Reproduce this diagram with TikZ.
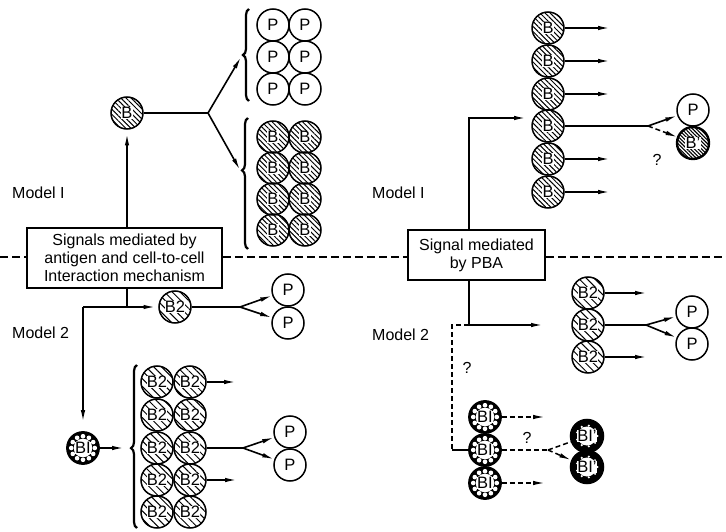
\documentclass[tikz,border=0pt]{standalone}
\usepackage{fontspec}
\setmainfont{Liberation Sans}
\usetikzlibrary{arrows.meta,patterns.meta,decorations.pathreplacing,calc}

\newcommand\cellfont{\fontsize{16.5}{16.5}\selectfont}
\newcommand\boxfont{\fontsize{16}{18}\selectfont}
\newcommand\labfont{\fontsize{16}{16}\selectfont}

% a cell drawn as a circle, with its letters on a small white patch
\newcommand\hcell[4]{\node[#1] (#2) at (#3) {}; \node[lbl] (#2t) at (#2.center) {#4};}

\tikzset{
  cellbase/.style={circle, draw, line width=1.5pt, minimum size=32pt, inner sep=0pt},
  pcell/.style={cellbase, fill=white, font=\cellfont},
  bcell/.style={cellbase, pattern={Lines[angle=-45,distance=3.6pt,line width=1pt]}},
  btwo/.style={cellbase, pattern={Lines[angle=-45,distance=5.5pt,line width=1pt]}},
  bprime/.style={cellbase, line width=2.4pt, pattern={Lines[angle=-45,distance=2.6pt,line width=1.1pt]}},
  bone/.style={cellbase, line width=1.8pt, fill=black, path picture={
      \foreach \a in {0,30,...,330}
        {\fill[white] ($(path picture bounding box.center)+(\a:11.8pt)$) circle (2.3pt);}
      \fill[white] (path picture bounding box.center) circle (9.3pt);}},
  bonep/.style={cellbase, line width=2.5pt, fill=black, path picture={
      \fill[white] (path picture bounding box.center) circle (9.5pt);
      \foreach \a in {0,40,...,320}
        {\fill[white] ($(path picture bounding box.center)+(\a:10.5pt)$) circle (1.2pt);}}},
  lbl/.style={fill=white, inner sep=0.4pt, font=\cellfont},
  ln/.style={line width=1.6pt},
  arr/.style={line width=1.6pt, -{Latex[length=12pt,width=4.5pt]}},
  dsh/.style={line width=1.5pt, dash pattern=on 5pt off 3pt},
  sep/.style={line width=1.6pt, dash pattern=on 8pt off 4pt},
  box/.style={draw, line width=1.6pt, fill=white, align=center, font=\boxfont},
  brc/.style={decorate, decoration={brace, amplitude=6pt}, line width=2.2pt},
  lab/.style={font=\labfont, anchor=west, inner sep=0pt},
}

\begin{document}
\begin{tikzpicture}[x=1pt,y=-1pt]
\useasboundingbox (0,0) rectangle (726,532);

% ---- signal boxes and the dashed divider between the two models
\node[box, minimum width=195pt, minimum height=60pt] (sig1) at (124.5,258)
  {Signals mediated by\\antigen and cell-to-cell\\Interaction mechanism};
\node[box, minimum width=137pt, minimum height=50pt] (sig2) at (476.5,255)
  {Signal mediated\\by PBA};
\coordinate (sepL) at (0,257);
\coordinate (sepR) at (726,257);
\draw[sep] (sepL) -- (sepL -| sig1.west);
\draw[sep] (sepL -| sig1.east) -- (sepL -| sig2.west);
\draw[sep] (sepL -| sig2.east) -- (sepR);

% ---- model labels and question marks
\node[lab] (mA1) at (12,193) {Model I};
\node[lab] (mA2) at (12,333) {Model 2};
\node[lab] (mB1) at (372,193) {Model I};
\node[lab] (mB2) at (372,335) {Model 2};
\node[font=\labfont] (q1) at (657,160) {?};
\node[font=\labfont] (q2) at (467,368) {?};
\node[font=\labfont] (q3) at (527,438) {?};

% ================= left half, model 1
\hcell{bcell}{b0}{127,113}{B}
\foreach \r/\y in {1/25,2/57,3/89}
  \foreach \c/\x in {1/273,2/305}
    {\node[pcell] (p\r\c) at (\x,\y) {P};}
\foreach \r/\y in {1/137,2/168,3/199,4/230}
  \foreach \c/\x in {1/273,2/305}
    {\hcell{bcell}{g\r\c}{\x,\y}{B}}
\coordinate (braPb) at (249,101);
\coordinate (braPt) at (249,9);
\coordinate (braBb) at (248,249);
\coordinate (braBt) at (248,118);
\draw[brc, decoration={aspect=0.5}] (braPb) -- (braPt);
\draw[brc, decoration={aspect=0.6}] (braBb) -- (braBt);
\coordinate (br0) at (208,113);
\coordinate (tipP) at (241,57);
\coordinate (tipB) at (240,170);
\draw[ln] (b0) -- (br0);
\draw[arr] (br0) -- (tipP);
\draw[arr] (br0) -- (tipB);
\draw[arr, shorten >=4pt] (b0 |- sig1.north) -- (b0);

% ================= left half, model 2
\hcell{btwo}{c0}{175,307}{B2}
\node[pcell] (pc1) at (288,290) {P};
\node[pcell] (pc2) at (288,323) {P};
\coordinate (j1) at (127,307);
\coordinate (j2) at (83,307);
\coordinate (br1) at (240,307);
\draw[ln] (j1 |- sig1.south) -- (j1);
\draw[ln] (j2) -- (j1);
\draw[arr, shorten >=3pt] (j1) -- (c0);
\draw[ln] (c0) -- (br1);
\draw[arr] (br1) -- (pc1);
\draw[arr] (br1) -- (pc2);

\hcell{bone}{d0}{83,448}{BI}
\draw[arr, shorten >=9pt] (j2) -- (d0);
\foreach \r/\y in {1/382,2/415,3/448,4/480,5/512}
  \foreach \c/\x in {1/157,2/190}
    {\hcell{btwo}{h\r\c}{\x,\y}{B2}}
\coordinate (braLb) at (137,528);
\coordinate (braLt) at (137,365);
\draw[brc, decoration={aspect=0.49}] (braLb) -- (braLt);
\coordinate (tipL) at (124,448);
\draw[arr] (d0) -- (tipL);
\coordinate (oh1) at (236,382);
\coordinate (oh4) at (237,480);
\draw[arr] (h12) -- (oh1);
\draw[arr] (h42) -- (oh4);
\coordinate (br2) at (243,448);
\node[pcell] (pd1) at (290,432) {P};
\node[pcell] (pd2) at (290,465) {P};
\draw[ln] (h32) -- (br2);
\draw[arr] (br2) -- (pd1);
\draw[arr] (br2) -- (pd2);

% ================= right half, model 1
\foreach \r/\y in {1/28,2/61,3/94,4/126,5/159,6/192}
  {\hcell{bcell}{rb\r}{548,\y}{B}}
\foreach \r/\y in {1/28,2/61,3/94,5/159,6/192}
  {\coordinate (or\r) at (610,\y);
   \draw[arr] (rb\r) -- (or\r);}
\coordinate (e1) at (469,118);
\coordinate (e1tip) at (526,118);
\draw[arr] (e1 |- sig2.north) -- (e1) -- (e1tip);
\coordinate (br3) at (648,126);
\node[pcell] (pe1) at (693,110) {P};
\hcell{bprime}{pe2}{693,143}{B'}
\draw[ln] (rb4) -- (br3);
\draw[arr] (br3) -- (pe1);
\draw[dsh, -{Latex[length=12pt,width=4.5pt]}] (br3) -- (pe2);

% ================= right half, model 2
\foreach \r/\y in {1/293,2/325,3/357}
  {\hcell{btwo}{s\r}{588,\y}{B2}}
\coordinate (j3) at (469,325);
\coordinate (j3tip) at (543,325);
\draw[ln] (j3 |- sig2.south) -- (j3);
\draw[arr] (j3) -- (j3tip);
\coordinate (os1) at (647,293);
\coordinate (os3) at (647,357);
\draw[arr] (s1) -- (os1);
\draw[arr] (s3) -- (os3);
\coordinate (br4) at (646,325);
\node[pcell] (pf1) at (692,312) {P};
\node[pcell] (pf2) at (692,344) {P};
\draw[ln] (s2) -- (br4);
\draw[arr] (br4) -- (pf1);
\draw[arr] (br4) -- (pf2);

\foreach \r/\y in {1/417,2/450,3/483}
  {\hcell{bone}{t\r}{485,\y}{BI}}
\coordinate (k1) at (452,325);
\coordinate (k2) at (452,450);
\draw[dsh] (j3) -- (k1) -- (k2);
\draw[ln] (k2) -- (t2);
\coordinate (ot1) at (545,417);
\coordinate (ot3) at (545,483);
\draw[dsh, -{Latex[length=12pt,width=4.5pt]}] (t1) -- (ot1);
\draw[dsh, -{Latex[length=12pt,width=4.5pt]}] (t3) -- (ot3);
\coordinate (br5) at (548,450);
\hcell{bonep}{u1}{587,436}{BI'}
\hcell{bonep}{u2}{587,467}{BI'}
\draw[dsh] (t2) -- (br5);
\draw[dsh] (br5) -- (u1);
\draw[dsh, -{Latex[length=12pt,width=4.5pt]}] (br5) -- (u2);
\end{tikzpicture}
\end{document}
